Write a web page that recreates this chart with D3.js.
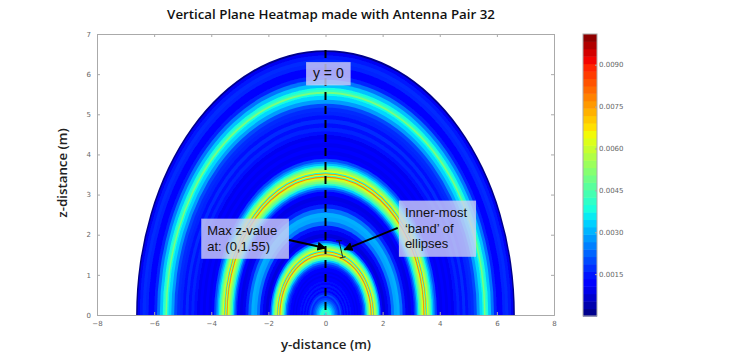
<!DOCTYPE html>
<html>
<head>
<meta charset="utf-8">
<script src="https://cdnjs.cloudflare.com/ajax/libs/d3/7.8.5/d3.min.js"></script>
<style>
body { margin: 0; background: #fff; }
text { font-family: "Open Sans", sans-serif; }
.tick text { font-family: "DejaVu Sans", sans-serif; font-size: 7px; fill: #666; }
.tick line, .domain { stroke: #aaa; }
</style>
</head>
<body>
<div id="chart"></div>
<script>
// outer y semi-axis of each ring (m), and the value read for it
var ringEdge = [
  0.05,0.1,0.15,0.2,0.25,0.3,0.35,0.4,0.45,0.5,
  0.55,0.6,0.65,0.7,0.75,0.8,0.85,0.9,0.95,1.0,
  1.05,1.1,1.15,1.2,1.25,1.3,1.35,1.4,1.45,1.5,
  1.54,1.58,1.61,1.63,1.66,1.68,1.71,1.73,1.76,1.8,
  1.84,1.88,1.93,2.0,2.1,2.2,2.3,2.4,2.5,2.6,
  2.7,2.8,2.9,3.0,3.1,3.15,3.2,3.25,3.3,3.35,
  3.39,3.43,3.46,3.48,3.51,3.53,3.56,3.58,3.61,3.65,
  3.69,3.73,3.78,3.83,3.9,4.0,4.1,4.2,4.3,4.4,
  4.5,4.6,4.7,4.8,4.9,5.0,5.1,5.2,5.3,5.4,
  5.5,5.55,5.6,5.65,5.7,5.8,5.9,6.0,6.1,6.2,
  6.3,6.4,6.5,6.58,6.63];
var ringValue = [
  0.0034,0.004,0.0042,0.0038,0.0034,0.003,0.0026,0.0022,0.0019,0.0016,
  0.002,0.0016,0.0012,0.0015,0.0011,0.0015,0.0012,0.0014,0.0011,0.0013,
  0.001,0.0012,0.001,0.0012,0.0013,0.0015,0.0018,0.0024,0.0033,0.0044,
  0.0052,0.0062,0.0078,0.004,0.0064,0.0078,0.004,0.0064,0.0058,0.005,
  0.0042,0.0034,0.0024,0.0011,0.0008,0.001,0.0015,0.0024,0.0029,0.003,
  0.0024,0.0016,0.001,0.0009,0.0013,0.0018,0.0024,0.0033,0.0042,0.005,
  0.0056,0.0062,0.0078,0.004,0.0064,0.0078,0.004,0.0064,0.0058,0.0052,
  0.0046,0.0038,0.0032,0.0026,0.002,0.0013,0.001,0.0013,0.001,0.0012,
  0.001,0.0014,0.0016,0.0014,0.0017,0.0014,0.0016,0.0017,0.002,0.0028,
  0.0034,0.0038,0.005,0.0042,0.0038,0.0032,0.0024,0.0016,0.0012,0.0012,
  0.0016,0.0017,0.0015,0.001,0.0001];
// z semi-axis read at the top of the ellipses for a few y semi-axes
var axisY = [0, 1.7, 3.6, 5.7, 6.63];
var axisZ = [0, 1.6, 3.6, 5.66, 6.6];

var yTicks = [-8,-6,-4,-2,0,2,4,6,8];
var zTicks = [0,1,2,3,4,5,6,7];
var barTicks = [0.0015,0.003,0.0045,0.006,0.0075,0.009];
var barMax = 0.0101;

var margin = {top: 34, right: 186, bottom: 48, left: 97};
var W = 740 - margin.left - margin.right,
    H = 363 - margin.top - margin.bottom;

var svg = d3.select("#chart").append("svg")
  .attr("width", 740).attr("height", 363);
var defs = svg.append("defs");
defs.append("filter").attr("id", "soft")
  .append("feGaussianBlur").attr("stdDeviation", 0.55);
var arrowHead = defs.append("marker").attr("id", "head")
  .attr("viewBox", "0 0 10 10").attr("refX", 9).attr("refY", 5)
  .attr("markerWidth", 4.5).attr("markerHeight", 4.5).attr("orient", "auto");
arrowHead.append("path").attr("d", "M0,0L10,5L0,10Z").attr("fill", "#000");

var visual = svg.append("g").attr("transform", `translate(${margin.left},${margin.top})`);

var x = d3.scaleLinear().domain([-8, 8]).range([0, W]);
var y = d3.scaleLinear().domain([0, 7]).range([H, 0]);
var ellipseZ = d3.scaleLinear().domain(axisY).range(axisZ);

// matplotlib jet
var jet = d3.scaleLinear()
  .domain([0,0.11,0.125,0.34,0.375,0.64,0.66,0.89,0.91,1].map(function(d){ return d * barMax; }))
  .range(["#00007f","#0000ff","#0000ff","#00dbff","#14ffe2","#eeff08","#ffea00","#ff1c00","#f20000","#7f0000"])
  .clamp(true);

var rings = ringEdge.map(function(e, i){ return {edge: e, value: ringValue[i]}; }).reverse();

var heat = visual.append("g").attr("filter", "url(#soft)");
heat.selectAll("path").data(rings).enter().append("path")
  .attr("d", function(d){
    var rx = x(d.edge) - x(0), ry = y(0) - y(ellipseZ(d.edge));
    return `M${x(-d.edge)},${y(0)}A${rx},${ry} 0 0 1 ${x(d.edge)},${y(0)}Z`;
  })
  .attr("fill", function(d){ return jet(d.value); });

// axes, ticks point inwards on all four sides
visual.append("g").attr("class", "axis").attr("transform", `translate(0,${H})`)
  .call(d3.axisBottom(x).tickValues(yTicks).tickSize(-3).tickPadding(6));
visual.append("g").attr("class", "axis")
  .call(d3.axisLeft(y).tickValues(zTicks).tickSize(-3).tickPadding(6).tickFormat(d3.format("d")));
visual.append("g").attr("class", "axis")
  .call(d3.axisTop(x).tickValues(yTicks).tickSize(-3).tickFormat(""));
visual.append("g").attr("class", "axis").attr("transform", `translate(${W},0)`)
  .call(d3.axisRight(y).tickValues(zTicks).tickSize(-3).tickFormat(""));

// y = 0 dashed line
visual.append("line")
  .attr("x1", x(0)).attr("x2", x(0)).attr("y1", y(6.6)).attr("y2", y(0))
  .attr("stroke", "#000").attr("stroke-width", 2).attr("stroke-dasharray", "8,6");

// annotations, given in plot units
var boxes = [
  {y0: -0.68, y1: 0.88, z0: 5.72, z1: 6.3, lines: ["y = 0"], size: 14, anchor: "middle"},
  {y0: -4.35, y1: -1.28, z0: 1.4, z1: 2.4, lines: ["Max z-value", "at: (0,1.55)"], size: 13, anchor: "start"},
  {y0: 2.57, y1: 5.27, z0: 1.45, z1: 2.85, lines: ["Inner-most", "\u2018band\u2019 of", "ellipses"], size: 13, anchor: "start"}
];
boxes.forEach(function(b){
  visual.append("rect")
    .attr("x", x(b.y0)).attr("y", y(b.z1))
    .attr("width", x(b.y1) - x(b.y0)).attr("height", y(b.z0) - y(b.z1))
    .attr("fill", "#cfcff5").attr("opacity", 0.8);
  var lh = 15.5;
  var total = b.lines.length * lh;
  var top = (y(b.z0) + y(b.z1)) / 2 - total / 2;
  b.lines.forEach(function(t, i){
    visual.append("text")
      .attr("x", b.anchor == "middle" ? (x(b.y0) + x(b.y1)) / 2 : x(b.y0) + 6)
      .attr("y", top + lh * i + 12)
      .attr("text-anchor", b.anchor)
      .style("font-family", "'Liberation Sans', sans-serif")
      .attr("font-size", b.size).attr("fill", "#111").text(t);
  });
});

[[-1.28, 1.87, 0, 1.67], [2.53, 2.17, 0.66, 1.63]].forEach(function(a){
  visual.append("line")
    .attr("x1", x(a[0])).attr("y1", y(a[1])).attr("x2", x(a[2])).attr("y2", y(a[3]))
    .attr("stroke", "#000").attr("stroke-width", 2).attr("marker-end", "url(#head)");
});

// bracket across the inner band
[[0.47, 1.85, 0.6, 1.45], [0.37, 1.85, 0.57, 1.85], [0.5, 1.42, 0.7, 1.45]].forEach(function(a){
  visual.append("line")
    .attr("x1", x(a[0])).attr("y1", y(a[1])).attr("x2", x(a[2])).attr("y2", y(a[3]))
    .attr("stroke", "#111").attr("stroke-width", 0.9);
});

// colour bar
var barY = d3.scaleLinear().domain([0, barMax]).range([316, 34]);
var levels = d3.range(38).map(function(i){ return i / 38 * barMax; });
var bar = svg.append("g").attr("transform", "translate(583,0)");
bar.selectAll("rect").data(levels).enter().append("rect")
  .attr("x", 0).attr("width", 14)
  .attr("y", function(d){ return barY(d + barMax / 38); })
  .attr("height", function(){ return barY(0) - barY(barMax / 38) + 0.5; })
  .attr("fill", function(d){ return jet(d + barMax / 76); });
bar.append("rect").attr("width", 14).attr("y", 34).attr("height", 282)
  .attr("fill", "none").attr("stroke", "#aaa");
bar.append("g").attr("class", "axis").attr("transform", "translate(14,0)")
  .call(d3.axisRight(barY).tickValues(barTicks).tickSize(-2).tickPadding(2).tickFormat(d3.format(".4f")))
  .select(".domain").remove();

// titles
svg.append("text").attr("x", 331).attr("y", 19).attr("text-anchor", "middle")
  .attr("font-size", 13.3).attr("font-weight", 600).attr("fill", "#111")
  .text("Vertical Plane Heatmap made with Antenna Pair 32");
svg.append("text").attr("x", 326).attr("y", 349).attr("text-anchor", "middle")
  .attr("font-size", 13.3).attr("font-weight", 600).attr("fill", "#222")
  .text("y-distance (m)");
svg.append("text").attr("transform", "translate(67,173) rotate(-90)").attr("text-anchor", "middle")
  .attr("font-size", 13.3).attr("font-weight", 600).attr("fill", "#222")
  .text("z-distance (m)");
</script>
</body>
</html>
